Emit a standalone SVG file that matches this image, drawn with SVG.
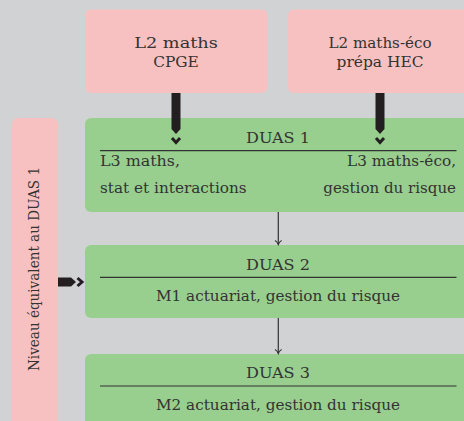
<svg xmlns="http://www.w3.org/2000/svg" width="464" height="421" viewBox="0 0 464 421" font-family="'DejaVu Serif', 'Liberation Serif', serif" font-size="14.5">
<style>
text{font-family:'DejaVu Serif','Liberation Serif',serif;font-size:14.5px;fill:#333;}
.pink{fill:#f8c1c1;}
.green{fill:#98cf8e;}
.rule{stroke:#333;stroke-width:1.2;}
.thin{stroke:#333;stroke-width:1.2;fill:none;}
.head{stroke:#333;stroke-width:1.1;fill:none;}
.thick{fill:#231f20;}
.chev{fill:none;stroke:#231f20;stroke-width:3;stroke-linejoin:miter;}
</style>
<rect width="464" height="421" fill="#d1d2d4"/>
<g id="l2maths">
<rect class="pink" x="85" y="9.5" width="182.5" height="83.5" rx="6"/>
<text x="176" y="48" text-anchor="middle" textLength="83.7" lengthAdjust="spacingAndGlyphs">L2 maths</text>
<text x="176" y="67" text-anchor="middle" textLength="45.7" lengthAdjust="spacingAndGlyphs">CPGE</text>
</g>
<g id="l2eco">
<rect class="pink" x="288" y="9.5" width="190" height="83.5" rx="6"/>
<text x="380" y="48" text-anchor="middle" textLength="103" lengthAdjust="spacingAndGlyphs">L2 maths-éco</text>
<text x="380" y="67" text-anchor="middle" textLength="87" lengthAdjust="spacingAndGlyphs">prépa HEC</text>
</g>
<g id="niveau">
<rect class="pink" x="12" y="118" width="46" height="330" rx="6"/>
<text transform="translate(38.5,269) rotate(-90)" text-anchor="middle" textLength="204" lengthAdjust="spacingAndGlyphs">Niveau équivalent au DUAS 1</text>
</g>
<g id="duas1">
<rect class="green" x="85" y="118" width="390" height="94" rx="6"/>
<text x="278" y="143" text-anchor="middle" textLength="64" lengthAdjust="spacingAndGlyphs">DUAS 1</text>
<line class="rule" x1="100" y1="150.7" x2="456.5" y2="150.7"/>
<text x="100" y="166" textLength="80" lengthAdjust="spacingAndGlyphs">L3 maths,</text>
<text x="100" y="193" textLength="146.7" lengthAdjust="spacingAndGlyphs">stat et interactions</text>
<text x="456" y="166" text-anchor="end" textLength="109" lengthAdjust="spacingAndGlyphs">L3 maths-éco,</text>
<text x="456" y="193" text-anchor="end" textLength="132.7" lengthAdjust="spacingAndGlyphs">gestion du risque</text>
</g>
<g id="duas2">
<rect class="green" x="85" y="245" width="390" height="73" rx="6"/>
<text x="278" y="270" text-anchor="middle" textLength="64" lengthAdjust="spacingAndGlyphs">DUAS 2</text>
<line class="rule" x1="100" y1="277.3" x2="456.5" y2="277.3"/>
<text x="278" y="301" text-anchor="middle" textLength="244" lengthAdjust="spacingAndGlyphs">M1 actuariat, gestion du risque</text>
</g>
<g id="duas3">
<rect class="green" x="85" y="354" width="390" height="90" rx="6"/>
<text x="278" y="378" text-anchor="middle" textLength="64" lengthAdjust="spacingAndGlyphs">DUAS 3</text>
<line class="rule" x1="100" y1="386" x2="456.5" y2="386"/>
<text x="278" y="410" text-anchor="middle" textLength="244" lengthAdjust="spacingAndGlyphs">M2 actuariat, gestion du risque</text>
</g>
<g id="connectors">
<polygon class="thick" points="171.5,93 180.5,93 180.5,129 176,134 171.5,129"/>
<polyline class="chev" points="172,138 176,142.5 180,138"/>
<polygon class="thick" points="375.5,93 384.5,93 384.5,129 380,134 375.5,129"/>
<polyline class="chev" points="376,138 380,142.5 384,138"/>
<polygon class="thick" points="58,277.5 71,277.5 76,282 71,286.5 58,286.5"/>
<polyline class="chev" points="77.5,278 82,282 77.5,286"/>
<line class="thin" x1="278.3" y1="212" x2="278.3" y2="244.5"/>
<path class="head" d="M275,240.5 Q277.5,242 278.3,244.5 Q279.1,242 281.6,240.5"/>
<line class="thin" x1="278.3" y1="318" x2="278.3" y2="353.5"/>
<path class="head" d="M275,349.5 Q277.5,351 278.3,353.5 Q279.1,351 281.6,349.5"/>
</g>
</svg>
